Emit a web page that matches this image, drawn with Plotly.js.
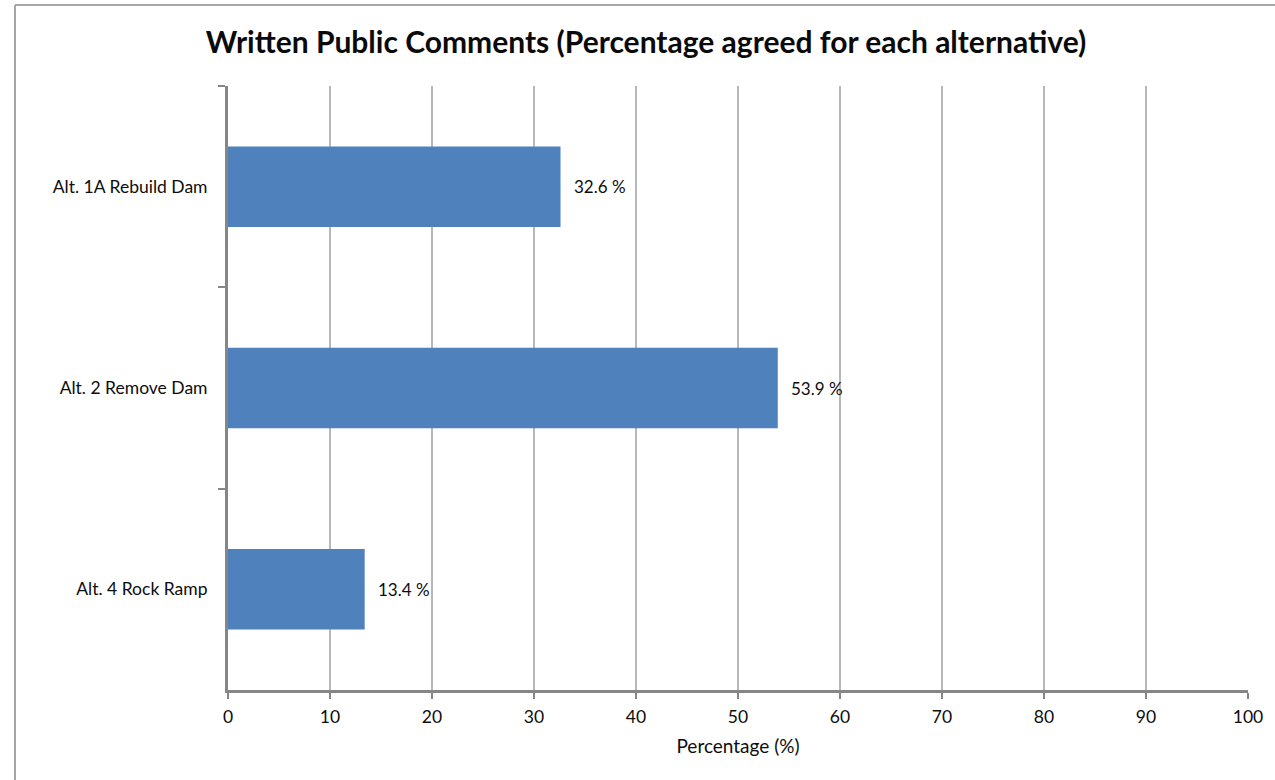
<!DOCTYPE html>
<html>
<head>
<meta charset="utf-8">
<script src="https://cdn.plot.ly/plotly-3.0.1.min.js"></script>
<style>html,body{margin:0;padding:0;background:#fff;}#chart{width:1275px;height:780px;}</style>
</head>
<body>
<div id="chart"></div>
<script>
const categories = ["Alt. 1A Rebuild Dam", "Alt. 2 Remove Dam", "Alt. 4 Rock Ramp"];
const values = [32.6, 53.9, 13.4];
const valueLabels = ["32.6 %", "53.9 %", "13.4 %"];
const xTicks = [0, 10, 20, 30, 40, 50, 60, 70, 80, 90, 100];

const FONT = "Lato, Carlito, Calibri, sans-serif";
const AXIS = "#868686";
const GRID = "#b8b8b8";
const TXT = "#0d0d0d";

const trace = {
  type: "bar",
  orientation: "h",
  x: values,
  y: categories,
  width: 0.4,
  marker: {color: "#4F81BD", line: {width: 0}},
  hoverinfo: "skip"
};

const annotations = values.map((v, i) => ({
  x: v, y: categories[i], xref: "x", yref: "y",
  text: valueLabels[i], showarrow: false,
  xanchor: "left", yanchor: "middle", xshift: 11,
  font: {family: FONT, size: 17, color: TXT}
}));

const layout = {
  width: 1275, height: 780,
  margin: {l: 228, r: 27, t: 86, b: 90},
  paper_bgcolor: "#fff", plot_bgcolor: "#fff",
  showlegend: false,
  title: {
    text: "<b>Written Public Comments (Percentage agreed for each alternative)</b>",
    font: {family: FONT, size: 30, color: "#0a0a0a"},
    xref: "container", yref: "container",
    x: 646/1275, xanchor: "center", y: 1 - 42/780, yanchor: "middle"
  },
  xaxis: {
    range: [0, 100], tickvals: xTicks, ticktext: xTicks.map(String),
    showgrid: true, gridcolor: GRID, gridwidth: 2,
    zeroline: false,
    showline: true, linecolor: AXIS, linewidth: 3,
    ticks: "outside", ticklen: 6, tickwidth: 2, tickcolor: AXIS,
    ticklabelstandoff: 3,
    tickfont: {family: FONT, size: 17.5, color: TXT},
    title: {text: "Percentage (%)", font: {family: FONT, size: 19, color: TXT}, standoff: 14},
    fixedrange: true
  },
  yaxis: {
    type: "category", categoryorder: "array", categoryarray: categories,
    autorange: "reversed",
    showgrid: false, zeroline: false,
    showline: true, linecolor: AXIS, linewidth: 3,
    ticks: "outside", tickson: "boundaries", ticklen: 7, tickwidth: 2, tickcolor: AXIS,
    ticklabelstandoff: 14,
    tickfont: {family: FONT, size: 17.5, color: TXT},
    fixedrange: true
  },
  annotations: annotations,
  shapes: [
    {type: "line", xref: "paper", yref: "paper", x0: (15-228)/1020, x1: (1300-228)/1020, y0: (690-5)/604, y1: (690-5)/604, line: {color: "#a6a6a6", width: 2}},
    {type: "line", xref: "paper", yref: "paper", x0: (15-228)/1020, x1: (15-228)/1020, y0: (690-5)/604, y1: (690-800)/604, line: {color: "#a6a6a6", width: 2}}
  ]
};

Plotly.newPlot("chart", [trace], layout, {displayModeBar: false, staticPlot: true});
</script>
</body>
</html>
